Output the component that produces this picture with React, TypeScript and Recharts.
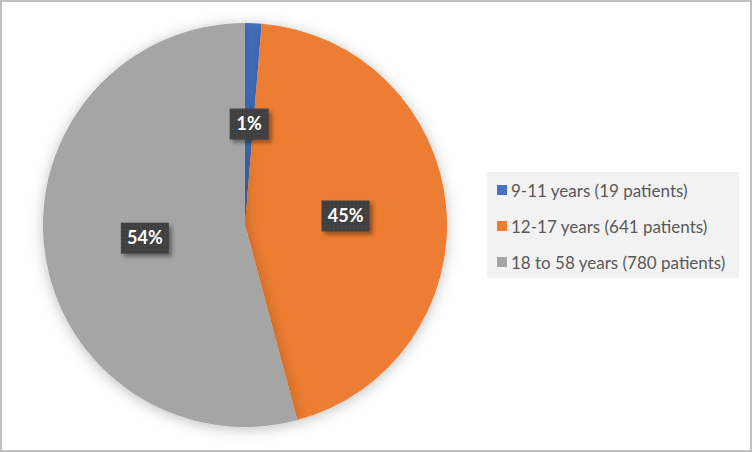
import React from "react";
import { Cell, Legend, Pie, PieChart } from "recharts";

const categories = ["9-11 years (19 patients)", "12-17 years (641 patients)", "18 to 58 years (780 patients)"];
const patients = [19, 641, 780];
const colors = ["#4472c4", "#ed7d31", "#a5a5a5"];

const data = categories.map((name, i) => ({ name, value: patients[i] }));

const FONT = "Lato, 'Open Sans', sans-serif";
const RAD = Math.PI / 180;

function PercentLabel(props: any) {
  const { cx, cy, midAngle, outerRadius, percent } = props;
  const r = outerRadius * 0.5;
  const x = cx + r * Math.cos(-midAngle * RAD);
  const y = cy + r * Math.sin(-midAngle * RAD);
  const text = `${Math.round(percent * 100)}%`;
  const w = text.length > 2 ? 48 : 39;
  const h = 31;
  return (
    <g>
      <rect x={x - w / 2} y={y - h / 2} width={w} height={h} fill="#404040" filter="url(#labelShadow)" />
      <rect x={x - w / 2} y={y - h / 2} width={w} height={h} fill="url(#dots)" />
      <text
        x={x}
        y={y + 1}
        textAnchor="middle"
        dominantBaseline="middle"
        fill="#ffffff"
        fontFamily={FONT}
        fontWeight={700}
        fontSize={18}
      >
        {text}
      </text>
    </g>
  );
}

function LegendBox({ payload }: any) {
  return (
    <div style={{ width: 252, height: 106, background: "#f2f2f2", fontFamily: FONT, fontSize: 17, color: "#595959" }}>
      {(payload || []).map((p: any, i: number) => (
        <div key={i} style={{ height: 36, display: "flex", alignItems: "center", paddingLeft: 10 }}>
          <span style={{ width: 10, height: 10, background: colors[i], marginRight: 4, display: "inline-block" }} />
          <span>{categories[i]}</span>
        </div>
      ))}
    </div>
  );
}

export default function App() {
  return (
    <div style={{ position: "fixed", left: 0, top: 0, width: 752, height: 452, background: "#fff" }}>
      <svg width={0} height={0} style={{ position: "absolute" }}>
        <defs>
          <filter id="pieShadow" x="-20%" y="-20%" width="140%" height="140%">
            <feDropShadow dx={0} dy={2} stdDeviation={7} floodColor="#000" floodOpacity={0.25} />
          </filter>
          <filter id="labelShadow" x="-30%" y="-30%" width="170%" height="170%">
            <feDropShadow dx={3} dy={3} stdDeviation={2} floodColor="#000" floodOpacity={0.4} />
          </filter>
          <pattern id="dots" width={4} height={4} patternUnits="userSpaceOnUse">
            <rect x={1} y={1} width={1} height={1} fill="#555" />
          </pattern>
        </defs>
      </svg>
      <PieChart width={752} height={452} margin={{ top: 0, right: 0, bottom: 0, left: 0 }} style={{ fontFamily: FONT }}>
        <Pie
          data={data}
          dataKey="value"
          nameKey="name"
          cx={245}
          cy={225}
          outerRadius={202}
          startAngle={90}
          endAngle={-270}
          stroke="none"
          label={PercentLabel}
          labelLine={false}
          isAnimationActive={false}
          style={{ filter: "url(#pieShadow)" }}
        >
          {data.map((d, i) => (
            <Cell key={d.name} fill={colors[i]} />
          ))}
        </Pie>
        <Legend
          content={LegendBox}
          wrapperStyle={{ position: "absolute", left: 487, top: 172, width: 252, height: 106 }}
        />
      </PieChart>
      <div
        style={{
          position: "absolute",
          inset: 0,
          border: "2px solid #bfbfbf",
          boxSizing: "border-box",
          pointerEvents: "none",
        }}
      />
    </div>
  );
}
